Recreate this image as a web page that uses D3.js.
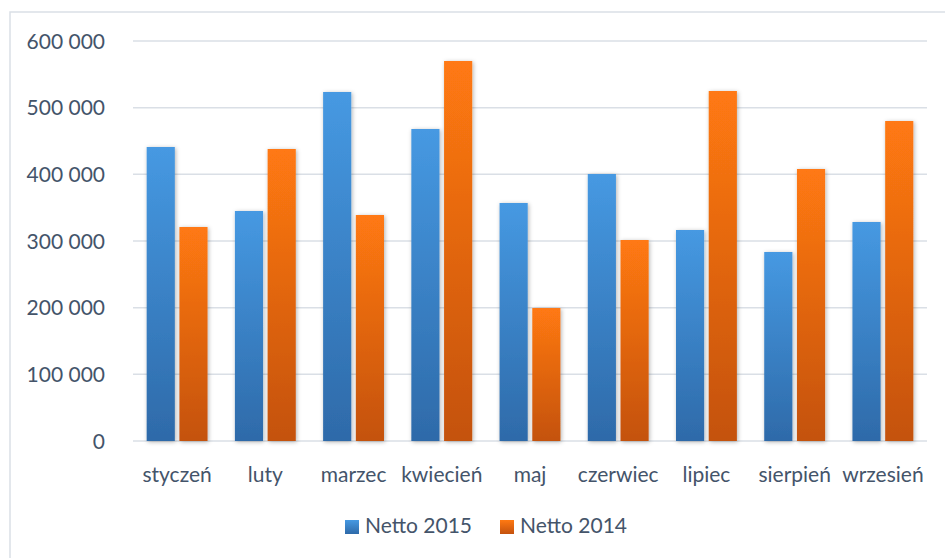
<!DOCTYPE html>
<html>
<head>
<meta charset="utf-8">
<script src="https://cdn.jsdelivr.net/npm/d3@7"></script>
<style>
  body { margin: 0; background: #fff; }
  svg { display: block; font-family: Lato, "Open Sans", sans-serif; }
</style>
</head>
<body>
<svg id="chart"></svg>
<script>
const months = ['styczeń', 'luty', 'marzec', 'kwiecień', 'maj', 'czerwiec', 'lipiec', 'sierpień', 'wrzesień'];
const netto2015 = [441000, 345000, 523500, 468000, 357000, 400500, 316500, 283500, 328500];
const netto2014 = [321000, 438000, 339000, 570000, 199500, 301500, 525000, 408000, 480000];
const seriesNames = ['Netto 2015', 'Netto 2014'];
const yTicks = [0, 100000, 200000, 300000, 400000, 500000, 600000];

const width = 945, height = 558;
const margin = { top: 41, right: 18, bottom: 117, left: 133 };
const textColor = '#44546a';
const gridColor = '#dadfe6';

const svg = d3.select('#chart').attr('width', width).attr('height', height);

const defs = svg.append('defs');
const grads = [
  { id: 'gBlue', top: '#4699e2', bottom: '#2e6aa9' },
  { id: 'gOrange', top: '#ff7912', bottom: '#c4520e' }
];
grads.forEach(g => {
  const lg = defs.append('linearGradient').attr('id', g.id)
    .attr('x1', 0).attr('y1', 0).attr('x2', 0).attr('y2', 1);
  lg.append('stop').attr('offset', '0%').attr('stop-color', g.top);
  lg.append('stop').attr('offset', '100%').attr('stop-color', g.bottom);
});
defs.append('filter').attr('id', 'shadow')
  .attr('x', '-30%').attr('y', '-10%').attr('width', '160%').attr('height', '120%')
  .append('feDropShadow')
  .attr('dx', 1).attr('dy', 1).attr('stdDeviation', 2)
  .attr('flood-color', '#000').attr('flood-opacity', 0.3);

// chart area border
svg.append('rect')
  .attr('x', 10).attr('y', 12).attr('width', width + 10).attr('height', height + 10)
  .attr('fill', 'none').attr('stroke', gridColor).attr('stroke-width', 1.5);

const x = d3.scaleBand()
  .domain(months)
  .range([margin.left, width - margin.right])
  .paddingInner(0.31).paddingOuter(0.155);

const x1 = d3.scaleBand()
  .domain(seriesNames)
  .range([0, x.bandwidth()])
  .paddingInner(0.14);

const y = d3.scaleLinear()
  .domain([0, 600000])
  .range([height - margin.bottom, margin.top]);

const fmt = v => d3.format(',')(v).replace(/,/g, ' ');

// gridlines
svg.append('g')
  .selectAll('line')
  .data(yTicks)
  .join('line')
  .attr('x1', margin.left).attr('x2', width - margin.right)
  .attr('y1', d => y(d)).attr('y2', d => y(d))
  .attr('stroke', gridColor).attr('stroke-width', 1.5);

// y labels
svg.append('g')
  .selectAll('text')
  .data(yTicks)
  .join('text')
  .attr('x', 105)
  .attr('y', d => y(d))
  .attr('dy', '0.36em')
  .attr('text-anchor', 'end')
  .attr('fill', textColor)
  .style('font-size', '21px')
  .text(d => fmt(d));

// bars
const data = months.map((m, i) => ({ month: m, values: [netto2015[i], netto2014[i]] }));
const groups = svg.append('g')
  .selectAll('g')
  .data(data)
  .join('g')
  .attr('transform', d => `translate(${x(d.month)},0)`);

groups.selectAll('rect')
  .data(d => d.values.map((v, j) => ({ key: seriesNames[j], value: v, j })))
  .join('rect')
  .attr('x', d => x1(d.key))
  .attr('y', d => y(d.value))
  .attr('width', x1.bandwidth())
  .attr('height', d => y(0) - y(d.value))
  .attr('fill', d => `url(#${grads[d.j].id})`)
  .attr('filter', 'url(#shadow)');

// x labels
svg.append('g')
  .selectAll('text')
  .data(months)
  .join('text')
  .attr('x', d => x(d) + x.bandwidth() / 2)
  .attr('y', 482)
  .attr('text-anchor', 'middle')
  .attr('fill', textColor)
  .style('font-size', '21px')
  .text(d => d);

// legend
const legendX = [345, 500];
const legend = svg.append('g')
  .selectAll('g')
  .data(seriesNames)
  .join('g')
  .attr('transform', (d, i) => `translate(${legendX[i]},520)`);
legend.append('rect')
  .attr('width', 14).attr('height', 14)
  .attr('fill', (d, i) => `url(#${grads[i].id})`);
legend.append('text')
  .attr('x', 20).attr('y', 13)
  .attr('fill', textColor)
  .style('font-size', '21px')
  .text(d => d);
</script>
</body>
</html>
